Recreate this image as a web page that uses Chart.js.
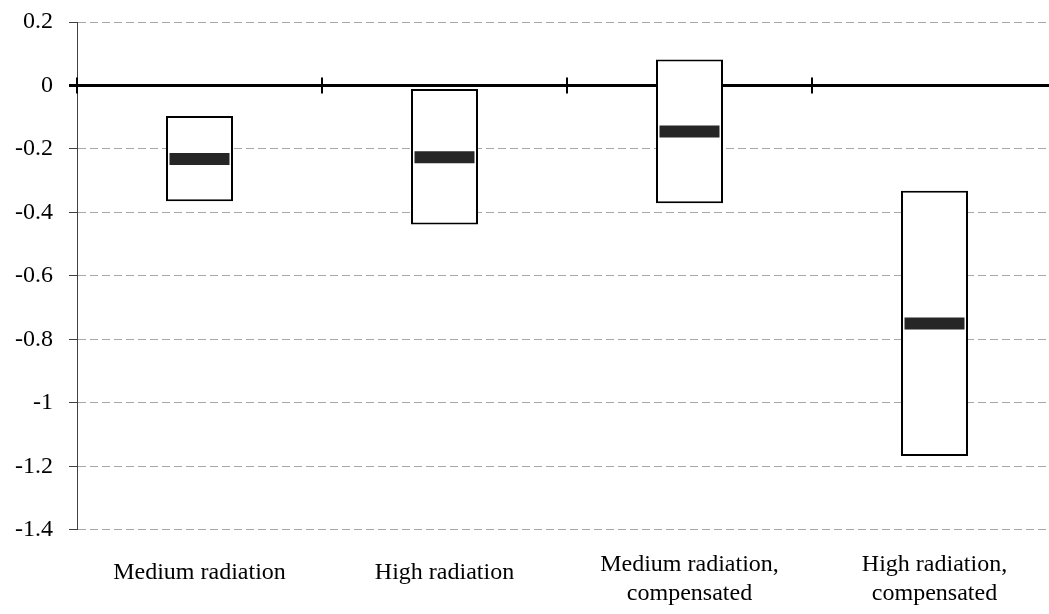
<!DOCTYPE html>
<html>
<head>
<meta charset="utf-8">
<script src="https://cdn.jsdelivr.net/npm/chart.js@4"></script>
<style>
html,body{margin:0;padding:0;overflow:hidden;background:#fff}
canvas{display:block}
</style>
</head>
<body>
<canvas id="c" width="1058" height="614"></canvas>
<script>
// ---- data ----
const categories = [
  'Medium radiation',
  'High radiation',
  ['Medium radiation,', 'compensated'],
  ['High radiation,', 'compensated']
];
const boxLow    = [-0.365, -0.438, -0.371, -1.168];
const boxHigh   = [-0.096, -0.011,  0.082, -0.332];
const medians   = [-0.232, -0.226, -0.145, -0.750];
// category boundaries where tick marks cross the zero line (in category-index units)
const axisCrossings = [-0.5, 0.5, 1.5, 2.5];
const yMin = -1.4, yMax = 0.2, yStep = 0.2;

const SERIF = "'Liberation Serif', 'Times New Roman', serif";
const isZero = c => c.tick && Math.abs(c.tick.value) < 1e-9;
const noPad = s => { s.paddingLeft = 0; s.paddingRight = 0; s.paddingTop = 0; s.paddingBottom = 0; };

new Chart(document.getElementById('c'), {
  type: 'bar',
  data: {
    labels: categories,
    datasets: [
      {
        type: 'line',
        label: 'Median',
        data: medians,
        xAxisID: 'x',
        yAxisID: 'y',
        showLine: false,
        pointStyle: 'line',
        pointRadius: 30,
        pointHoverRadius: 30,
        pointBorderWidth: 12,
        pointHoverBorderWidth: 12,
        pointBorderColor: '#262626',
        pointBackgroundColor: '#262626',
        order: 0,
        clip: false
      },
      {
        type: 'line',
        label: 'Axis ticks',
        data: axisCrossings.map(x => ({x: x, y: 0})),
        xAxisID: 'xt',
        yAxisID: 'y',
        showLine: false,
        pointStyle: 'line',
        pointRotation: 90,
        pointRadius: 8,
        pointHoverRadius: 8,
        pointBorderWidth: 2,
        pointBorderColor: '#000',
        order: 1,
        clip: false
      },
      {
        type: 'bar',
        label: 'Range',
        data: boxLow.map((l, i) => [l, boxHigh[i]]),
        xAxisID: 'x',
        yAxisID: 'y',
        grouped: false,
        backgroundColor: '#ffffff',
        borderColor: '#000000',
        borderWidth: 2,
        borderSkipped: false,
        barPercentage: 0.2735,
        categoryPercentage: 1,
        order: 2
      }
    ]
  },
  options: {
    responsive: false,
    animation: false,
    events: [],
    layout: {autoPadding: false, padding: {top: 22, right: 1, left: 0, bottom: 0}},
    plugins: {legend: {display: false}, tooltip: {enabled: false}},
    scales: {
      x: {
        type: 'category',
        offset: true,
        grid: {display: false},
        border: {display: false},
        ticks: {
          color: '#000',
          padding: 27,
          crossAlign: 'center',
          maxRotation: 0,
          autoSkip: false,
          font: c => ({family: SERIF, size: 24, lineHeight: Array.isArray(categories[c.index]) ? 1.2 : 1.71})
        },
        afterFit: s => { s.height = 84.3; noPad(s); }
      },
      xt: {
        type: 'linear',
        display: false,
        offset: false,
        min: axisCrossings[0],
        max: axisCrossings[axisCrossings.length - 1] + 1,
        afterFit: noPad
      },
      y: {
        min: yMin,
        max: yMax,
        ticks: {
          stepSize: yStep,
          color: '#000',
          padding: 16,
          font: {family: SERIF, size: 24},
          callback: v => String(Math.round(v * 10) / 10)
        },
        grid: {
          color: c => isZero(c) ? '#000' : '#a8a8a8',
          lineWidth: c => isZero(c) ? 3 : 1,
          tickLength: 8,
          tickColor: c => isZero(c) ? '#000' : '#404040',
          tickWidth: c => isZero(c) ? 3 : 1
        },
        border: {
          display: true,
          color: '#404040',
          width: 1,
          dash: c => isZero(c) ? [] : [8, 4]
        },
        afterFit: s => { s.width = 77; noPad(s); }
      }
    }
  }
});
</script>
</body>
</html>
